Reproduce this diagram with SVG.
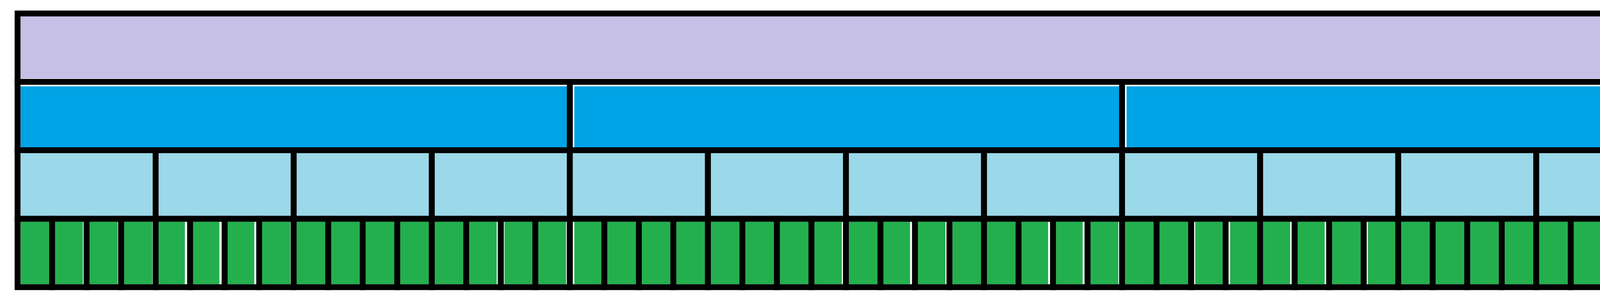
<svg xmlns="http://www.w3.org/2000/svg" width="5741" height="773" viewBox="0 0 5741 773">
<style>
.o{fill:none;stroke:#000;stroke-width:15;stroke-linejoin:miter}
.p{fill:#C6BFE6}
.b{fill:#00A3E5}
.lb{fill:#9AD8EA}
.g{fill:#24AF4E}
</style>
<rect x="0" y="0" width="5741" height="773" fill="#fff"/>
<g id="nodes">
<g id="root"><rect class="p" x="52.5" y="42" width="5640" height="159"/><rect class="o" x="45" y="34.5" width="5655" height="175"/></g>
<g id="b0"><rect class="b" x="52.5" y="221" width="1398.75" height="156"/><rect class="o" x="45" y="209.5" width="1413.75" height="175"/></g>
<g id="b1"><rect class="b" x="1470.25" y="221" width="1394.75" height="156"/><rect class="o" x="1458.75" y="209.5" width="1413.75" height="175"/></g>
<g id="b2"><rect class="b" x="2884" y="221" width="1394.75" height="156"/><rect class="o" x="2872.5" y="209.5" width="1413.75" height="175"/></g>
<g id="b3"><rect class="b" x="4297.75" y="221" width="1394.75" height="156"/><rect class="o" x="4286.25" y="209.5" width="1413.75" height="175"/></g>
<g id="lb0"><rect class="lb" x="52.5" y="392" width="338.44" height="160.5"/><rect class="o" x="45" y="384.5" width="353.44" height="175.5"/></g>
<g id="lb1"><rect class="lb" x="405.94" y="392" width="338.44" height="160.5"/><rect class="o" x="398.44" y="384.5" width="353.44" height="175.5"/></g>
<g id="lb2"><rect class="lb" x="759.38" y="392" width="338.44" height="160.5"/><rect class="o" x="751.88" y="384.5" width="353.44" height="175.5"/></g>
<g id="lb3"><rect class="lb" x="1112.81" y="392" width="338.44" height="160.5"/><rect class="o" x="1105.31" y="384.5" width="353.44" height="175.5"/></g>
<g id="lb4"><rect class="lb" x="1466.25" y="392" width="338.44" height="160.5"/><rect class="o" x="1458.75" y="384.5" width="353.44" height="175.5"/></g>
<g id="lb5"><rect class="lb" x="1819.69" y="392" width="338.44" height="160.5"/><rect class="o" x="1812.19" y="384.5" width="353.44" height="175.5"/></g>
<g id="lb6"><rect class="lb" x="2173.13" y="392" width="338.44" height="160.5"/><rect class="o" x="2165.63" y="384.5" width="353.44" height="175.5"/></g>
<g id="lb7"><rect class="lb" x="2526.56" y="392" width="338.44" height="160.5"/><rect class="o" x="2519.06" y="384.5" width="353.44" height="175.5"/></g>
<g id="lb8"><rect class="lb" x="2880" y="392" width="338.44" height="160.5"/><rect class="o" x="2872.5" y="384.5" width="353.44" height="175.5"/></g>
<g id="lb9"><rect class="lb" x="3233.44" y="392" width="338.44" height="160.5"/><rect class="o" x="3225.94" y="384.5" width="353.44" height="175.5"/></g>
<g id="lb10"><rect class="lb" x="3586.88" y="392" width="338.44" height="160.5"/><rect class="o" x="3579.38" y="384.5" width="353.44" height="175.5"/></g>
<g id="lb11"><rect class="lb" x="3940.31" y="392" width="338.44" height="160.5"/><rect class="o" x="3932.81" y="384.5" width="353.44" height="175.5"/></g>
<g id="lb12"><rect class="lb" x="4293.75" y="392" width="338.44" height="160.5"/><rect class="o" x="4286.25" y="384.5" width="353.44" height="175.5"/></g>
<g id="lb13"><rect class="lb" x="4647.19" y="392" width="338.44" height="160.5"/><rect class="o" x="4639.69" y="384.5" width="353.44" height="175.5"/></g>
<g id="lb14"><rect class="lb" x="5000.63" y="392" width="338.44" height="160.5"/><rect class="o" x="4993.13" y="384.5" width="353.44" height="175.5"/></g>
<g id="lb15"><rect class="lb" x="5354.06" y="392" width="338.44" height="160.5"/><rect class="o" x="5346.56" y="384.5" width="353.44" height="175.5"/></g>
<g id="g0"><rect class="g" x="52.5" y="567.5" width="73.36" height="160"/><rect class="o" x="45" y="560" width="88.36" height="175"/></g>
<g id="g1"><rect class="g" x="140.86" y="567.5" width="71.36" height="160"/><rect class="o" x="133.36" y="560" width="88.36" height="175"/></g>
<g id="g2"><rect class="g" x="229.22" y="567.5" width="71.86" height="160"/><rect class="o" x="221.72" y="560" width="88.36" height="175"/></g>
<g id="g3"><rect class="g" x="317.58" y="567.5" width="72.36" height="160"/><rect class="o" x="310.08" y="560" width="88.36" height="175"/></g>
<g id="g4"><rect class="g" x="405.94" y="567.5" width="67.36" height="160"/><rect class="o" x="398.44" y="560" width="88.36" height="175"/></g>
<g id="g5"><rect class="g" x="494.3" y="567.5" width="67.36" height="160"/><rect class="o" x="486.8" y="560" width="88.36" height="175"/></g>
<g id="g6"><rect class="g" x="582.66" y="567.5" width="68.36" height="160"/><rect class="o" x="575.16" y="560" width="88.36" height="175"/></g>
<g id="g7"><rect class="g" x="671.02" y="567.5" width="72.36" height="160"/><rect class="o" x="663.52" y="560" width="88.36" height="175"/></g>
<g id="g8"><rect class="g" x="759.38" y="567.5" width="73.36" height="160"/><rect class="o" x="751.88" y="560" width="88.36" height="175"/></g>
<g id="g9"><rect class="g" x="847.73" y="567.5" width="73.36" height="160"/><rect class="o" x="840.23" y="560" width="88.36" height="175"/></g>
<g id="g10"><rect class="g" x="936.09" y="567.5" width="73.36" height="160"/><rect class="o" x="928.59" y="560" width="88.36" height="175"/></g>
<g id="g11"><rect class="g" x="1024.45" y="567.5" width="73.36" height="160"/><rect class="o" x="1016.95" y="560" width="88.36" height="175"/></g>
<g id="g12"><rect class="g" x="1112.81" y="567.5" width="73.36" height="160"/><rect class="o" x="1105.31" y="560" width="88.36" height="175"/></g>
<g id="g13"><rect class="g" x="1201.17" y="567.5" width="70.36" height="160"/><rect class="o" x="1193.67" y="560" width="88.36" height="175"/></g>
<g id="g14"><rect class="g" x="1291.53" y="567.5" width="71.36" height="160"/><rect class="o" x="1282.03" y="560" width="88.36" height="175"/></g>
<g id="g15"><rect class="g" x="1377.89" y="567.5" width="71.36" height="160"/><rect class="o" x="1370.39" y="560" width="88.36" height="175"/></g>
<g id="g16"><rect class="g" x="1470.25" y="567.5" width="69.36" height="160"/><rect class="o" x="1458.75" y="560" width="88.36" height="175"/></g>
<g id="g17"><rect class="g" x="1554.61" y="567.5" width="73.36" height="160"/><rect class="o" x="1547.11" y="560" width="88.36" height="175"/></g>
<g id="g18"><rect class="g" x="1642.97" y="567.5" width="73.36" height="160"/><rect class="o" x="1635.47" y="560" width="88.36" height="175"/></g>
<g id="g19"><rect class="g" x="1731.33" y="567.5" width="73.36" height="160"/><rect class="o" x="1723.83" y="560" width="88.36" height="175"/></g>
<g id="g20"><rect class="g" x="1819.69" y="567.5" width="73.36" height="160"/><rect class="o" x="1812.19" y="560" width="88.36" height="175"/></g>
<g id="g21"><rect class="g" x="1908.05" y="567.5" width="73.36" height="160"/><rect class="o" x="1900.55" y="560" width="88.36" height="175"/></g>
<g id="g22"><rect class="g" x="1996.41" y="567.5" width="73.36" height="160"/><rect class="o" x="1988.91" y="560" width="88.36" height="175"/></g>
<g id="g23"><rect class="g" x="2084.77" y="567.5" width="70.36" height="160"/><rect class="o" x="2077.27" y="560" width="88.36" height="175"/></g>
<g id="g24"><rect class="g" x="2173.13" y="567.5" width="73.36" height="160"/><rect class="o" x="2165.63" y="560" width="88.36" height="175"/></g>
<g id="g25"><rect class="g" x="2261.48" y="567.5" width="68.36" height="160"/><rect class="o" x="2253.98" y="560" width="88.36" height="175"/></g>
<g id="g26"><rect class="g" x="2349.84" y="567.5" width="70.36" height="160"/><rect class="o" x="2342.34" y="560" width="88.36" height="175"/></g>
<g id="g27"><rect class="g" x="2438.2" y="567.5" width="73.36" height="160"/><rect class="o" x="2430.7" y="560" width="88.36" height="175"/></g>
<g id="g28"><rect class="g" x="2526.56" y="567.5" width="73.36" height="160"/><rect class="o" x="2519.06" y="560" width="88.36" height="175"/></g>
<g id="g29"><rect class="g" x="2614.92" y="567.5" width="68.36" height="160"/><rect class="o" x="2607.42" y="560" width="88.36" height="175"/></g>
<g id="g30"><rect class="g" x="2703.28" y="567.5" width="68.36" height="160"/><rect class="o" x="2695.78" y="560" width="88.36" height="175"/></g>
<g id="g31"><rect class="g" x="2791.64" y="567.5" width="71.36" height="160"/><rect class="o" x="2784.14" y="560" width="88.36" height="175"/></g>
<g id="g32"><rect class="g" x="2880" y="567.5" width="73.36" height="160"/><rect class="o" x="2872.5" y="560" width="88.36" height="175"/></g>
<g id="g33"><rect class="g" x="2968.36" y="567.5" width="73.36" height="160"/><rect class="o" x="2960.86" y="560" width="88.36" height="175"/></g>
<g id="g34"><rect class="g" x="3059.72" y="567.5" width="70.36" height="160"/><rect class="o" x="3049.22" y="560" width="88.36" height="175"/></g>
<g id="g35"><rect class="g" x="3149.08" y="567.5" width="69.36" height="160"/><rect class="o" x="3137.58" y="560" width="88.36" height="175"/></g>
<g id="g36"><rect class="g" x="3233.44" y="567.5" width="69.36" height="160"/><rect class="o" x="3225.94" y="560" width="88.36" height="175"/></g>
<g id="g37"><rect class="g" x="3321.8" y="567.5" width="69.36" height="160"/><rect class="o" x="3314.3" y="560" width="88.36" height="175"/></g>
<g id="g38"><rect class="g" x="3410.16" y="567.5" width="73.36" height="160"/><rect class="o" x="3402.66" y="560" width="88.36" height="175"/></g>
<g id="g39"><rect class="g" x="3501.52" y="567.5" width="70.36" height="160"/><rect class="o" x="3491.02" y="560" width="88.36" height="175"/></g>
<g id="g40"><rect class="g" x="3586.88" y="567.5" width="73.36" height="160"/><rect class="o" x="3579.38" y="560" width="88.36" height="175"/></g>
<g id="g41"><rect class="g" x="3675.23" y="567.5" width="73.36" height="160"/><rect class="o" x="3667.73" y="560" width="88.36" height="175"/></g>
<g id="g42"><rect class="g" x="3763.59" y="567.5" width="73.36" height="160"/><rect class="o" x="3756.09" y="560" width="88.36" height="175"/></g>
<g id="g43"><rect class="g" x="3851.95" y="567.5" width="73.36" height="160"/><rect class="o" x="3844.45" y="560" width="88.36" height="175"/></g>
<g id="g44"><rect class="g" x="3940.31" y="567.5" width="73.36" height="160"/><rect class="o" x="3932.81" y="560" width="88.36" height="175"/></g>
<g id="g45"><rect class="g" x="4028.67" y="567.5" width="70.36" height="160"/><rect class="o" x="4021.17" y="560" width="88.36" height="175"/></g>
<g id="g46"><rect class="g" x="4117.03" y="567.5" width="70.36" height="160"/><rect class="o" x="4109.53" y="560" width="88.36" height="175"/></g>
<g id="g47"><rect class="g" x="4205.39" y="567.5" width="69.36" height="160"/><rect class="o" x="4197.89" y="560" width="88.36" height="175"/></g>
<g id="g48"><rect class="g" x="4293.75" y="567.5" width="66.36" height="160"/><rect class="o" x="4286.25" y="560" width="88.36" height="175"/></g>
<g id="g49"><rect class="g" x="4382.11" y="567.5" width="67.36" height="160"/><rect class="o" x="4374.61" y="560" width="88.36" height="175"/></g>
<g id="g50"><rect class="g" x="4470.47" y="567.5" width="73.36" height="160"/><rect class="o" x="4462.97" y="560" width="88.36" height="175"/></g>
<g id="g51"><rect class="g" x="4558.83" y="567.5" width="73.36" height="160"/><rect class="o" x="4551.33" y="560" width="88.36" height="175"/></g>
<g id="g52"><rect class="g" x="4647.19" y="567.5" width="73.36" height="160"/><rect class="o" x="4639.69" y="560" width="88.36" height="175"/></g>
<g id="g53"><rect class="g" x="4735.55" y="567.5" width="73.36" height="160"/><rect class="o" x="4728.05" y="560" width="88.36" height="175"/></g>
<g id="g54"><rect class="g" x="4823.91" y="567.5" width="73.36" height="160"/><rect class="o" x="4816.41" y="560" width="88.36" height="175"/></g>
<g id="g55"><rect class="g" x="4912.27" y="567.5" width="73.36" height="160"/><rect class="o" x="4904.77" y="560" width="88.36" height="175"/></g>
<g id="g56"><rect class="g" x="5000.63" y="567.5" width="73.36" height="160"/><rect class="o" x="4993.13" y="560" width="88.36" height="175"/></g>
<g id="g57"><rect class="g" x="5092.98" y="567.5" width="69.36" height="160"/><rect class="o" x="5081.48" y="560" width="88.36" height="175"/></g>
<g id="g58"><rect class="g" x="5180.34" y="567.5" width="70.36" height="160"/><rect class="o" x="5169.84" y="560" width="88.36" height="175"/></g>
<g id="g59"><rect class="g" x="5268.7" y="567.5" width="70.36" height="160"/><rect class="o" x="5258.2" y="560" width="88.36" height="175"/></g>
<g id="g60"><rect class="g" x="5354.06" y="567.5" width="73.36" height="160"/><rect class="o" x="5346.56" y="560" width="88.36" height="175"/></g>
<g id="g61"><rect class="g" x="5442.42" y="567.5" width="73.36" height="160"/><rect class="o" x="5434.92" y="560" width="88.36" height="175"/></g>
<g id="g62"><rect class="g" x="5530.78" y="567.5" width="73.36" height="160"/><rect class="o" x="5523.28" y="560" width="88.36" height="175"/></g>
<g id="g63"><rect class="g" x="5619.14" y="567.5" width="73.36" height="160"/><rect class="o" x="5611.64" y="560" width="88.36" height="175"/></g>
</g>
<g id="connectors"></g>
</svg>
